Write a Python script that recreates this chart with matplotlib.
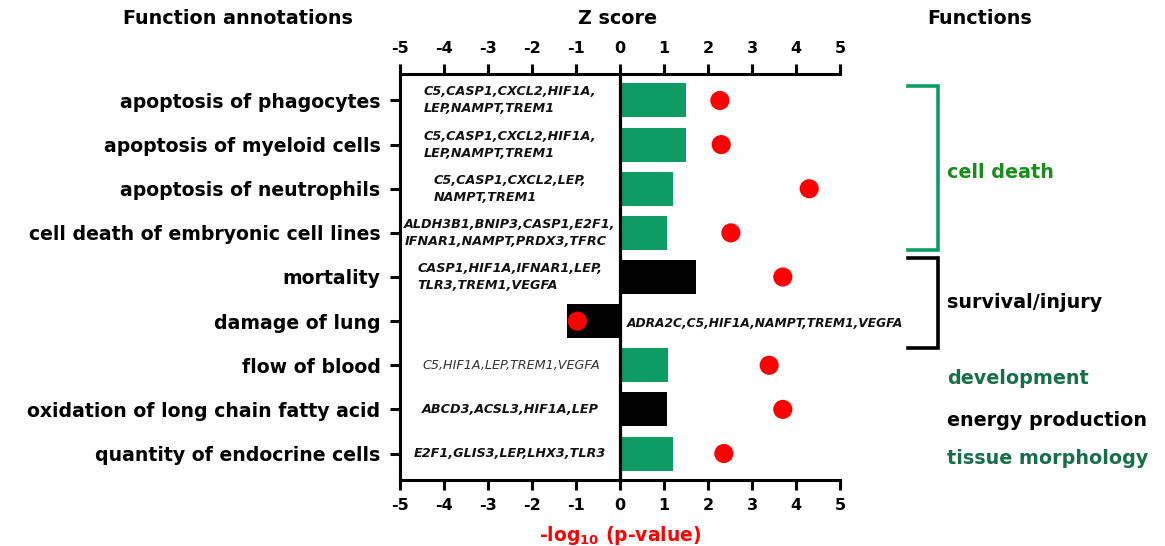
import matplotlib
matplotlib.use("Agg")
import matplotlib.pyplot as plt
from matplotlib.lines import Line2D

functions = ["apoptosis of phagocytes", "apoptosis of myeloid cells",
             "apoptosis of neutrophils", "cell death of embryonic cell lines",
             "mortality", "damage of lung", "flow of blood",
             "oxidation of long chain fatty acid", "quantity of endocrine cells"]
z_scores = [1.50, 1.50, 1.20, 1.07, 1.73, -1.20, 1.09, 1.07, 1.20]
neg_log_p = [2.27, 2.30, 4.30, 2.52, 3.70, -0.97, 3.39, 3.70, 2.36]
genes = ["C5,CASP1,CXCL2,HIF1A,\nLEP,NAMPT,TREM1",
         "C5,CASP1,CXCL2,HIF1A,\nLEP,NAMPT,TREM1",
         "C5,CASP1,CXCL2,LEP,\nNAMPT,TREM1",
         "ALDH3B1,BNIP3,CASP1,E2F1,\nIFNAR1,NAMPT,PRDX3,TFRC",
         "CASP1,HIF1A,IFNAR1,LEP,\nTLR3,TREM1,VEGFA",
         "ADRA2C,C5,HIF1A,NAMPT,TREM1,VEGFA",
         "C5,HIF1A,LEP,TREM1,VEGFA",
         "ABCD3,ACSL3,HIF1A,LEP",
         "E2F1,GLIS3,LEP,LHX3,TLR3"]
bar_colors = ["#0f9b64", "#0f9b64", "#0f9b64", "#0f9b64", "#000000",
              "#000000", "#0f9b64", "#000000", "#0f9b64"]
ticks = [-5, -4, -3, -2, -1, 0, 1, 2, 3, 4, 5]

plt.rcParams['font.family'] = ['DejaVu Sans']

fig = plt.figure(figsize=(11.65, 5.46), dpi=100)
L, R, T, B = 400/1165, 840/1165, 1-74/546, 1-480/546
ax = fig.add_axes([L, B, R-L, T-B])

ypos = list(range(len(functions)))
ax.barh(ypos, z_scores, height=0.77, color=bar_colors, zorder=2)
ax.scatter(neg_log_p, ypos, s=190, color="#ff0000", zorder=3, edgecolors='none')
ax.axvline(0, color='black', lw=2.3, zorder=4)

ax.set_xlim(-5, 5)
ax.set_ylim(8.6, -0.6)
ax.set_xticks(ticks)
ax.set_xticklabels([str(t) for t in ticks], fontweight='bold', fontsize=11.5)
ax.tick_params(axis='x', top=True, labeltop=True, bottom=True, labelbottom=True,
               direction='out', length=7, width=2.2, pad=6)
ax.set_yticks(ypos)
ax.set_yticklabels(functions, fontweight='bold', fontsize=13.6)
ax.tick_params(axis='y', direction='out', length=7, width=2.2, pad=7)
for s in ['top', 'bottom', 'left']:
    ax.spines[s].set_linewidth(2.2)
ax.spines['right'].set_visible(False)

for i, g in enumerate(genes):
    if functions[i] == "damage of lung":
        ax.text(0.15, i + 0.05, g, ha='left', va='center', fontsize=8.8,
                fontweight='bold', style='italic', color='#111111', zorder=5)
    elif functions[i] == "flow of blood":
        ax.text(-2.47, i, g, ha='center', va='center', fontsize=9.2,
                fontweight='normal', style='italic', color='#333333', multialignment='left')
    else:
        ax.text(-2.5, i, g, ha='center', va='center', fontsize=9.2,
                fontweight='bold', style='italic', color='#111111',
                multialignment='left', linespacing=1.4)

ax.set_xlabel("-log$_{\\mathbf{10}}$ (p-value)", color='#ff0000', fontweight='bold',
              fontsize=13.5, labelpad=8)

fig.text(238/1165, 1-19/546, "Function annotations", ha='center', va='center',
         fontweight='bold', fontsize=13.8)
fig.text(618/1165, 1-19/546, "Z score", ha='center', va='center',
         fontweight='bold', fontsize=13.8)
fig.text(980/1165, 1-19/546, "Functions", ha='center', va='center',
         fontweight='bold', fontsize=13.8)

def bracket(y0, y1, color):
    xs = [908/1165, 938/1165, 938/1165, 908/1165]
    ys = [1-y0/546, 1-y0/546, 1-y1/546, 1-y1/546]
    fig.add_artist(Line2D(xs, ys, color=color, lw=2.6, transform=fig.transFigure,
                          solid_joinstyle='miter'))

bracket(86, 250, "#0f9b64")
bracket(258, 348, "#000000")

groups = [("cell death", 173, "#1a8c1a"), ("survival/injury", 303, "#000000"),
          ("development", 378, "#176e48"), ("energy production", 420, "#000000"),
          ("tissue morphology", 459, "#176e48")]
for name, y, c in groups:
    fig.text(947/1165, 1-y/546, name, ha='left', va='center', fontweight='bold',
             fontsize=13.8, color=c)

fig.savefig("out.png", dpi=100)
